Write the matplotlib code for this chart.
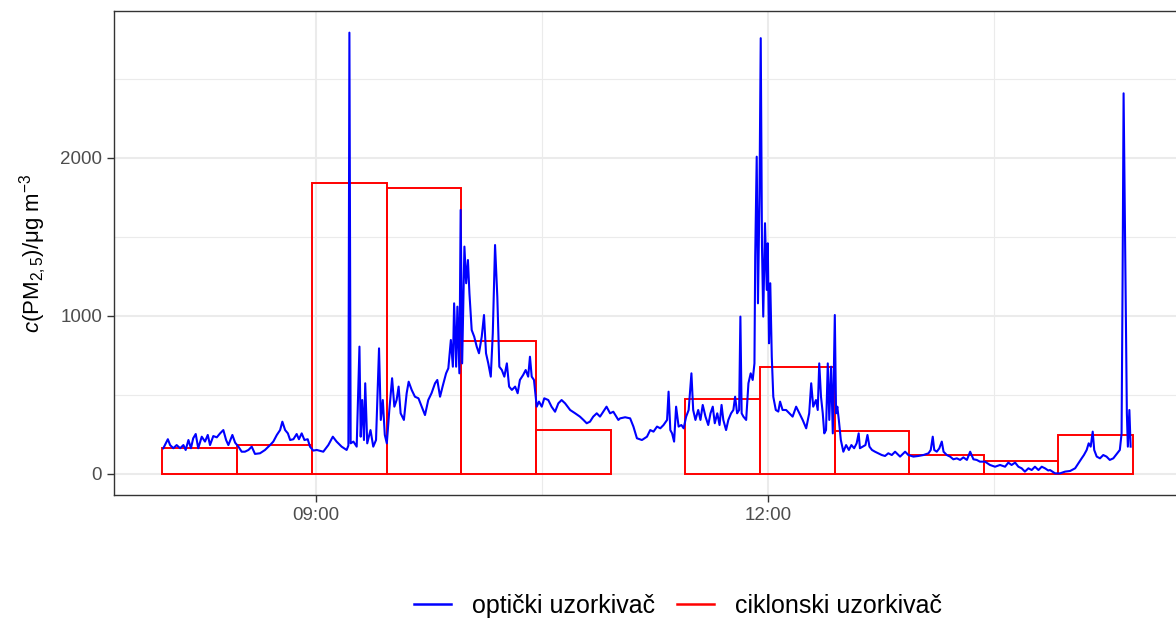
"""PM2.5 concentration: optical sampler time series vs cyclone sampler 30-min averages."""

import matplotlib

matplotlib.use("Agg")
import matplotlib.pyplot as plt
from matplotlib.lines import Line2D
from matplotlib.patches import Rectangle

plt.rcParams["font.family"] = ["Liberation Sans", "DejaVu Sans"]
plt.rcParams["mathtext.fontset"] = "custom"
plt.rcParams["mathtext.rm"] = "Liberation Sans"
plt.rcParams["mathtext.it"] = "Liberation Sans:italic"

# optical sampler, minutes after 08:00 and concentration in ug/m3
opt_min = [
    -0.8, 1.0, 1.9, 3.2, 4.5, 5.9, 7.2, 8.1, 9.2, 10.2, 11.1, 12.1, 13.1, 14.5,
    15.8, 16.9, 17.8, 19.1, 20.5, 21.8, 23.1, 24.2, 25.1, 26.7, 27.8, 29.1,
    30.4, 31.7, 33.1, 34.4, 35.7, 37.7, 39.7, 41.7, 43.0, 44.4, 45.7, 46.6,
    47.7, 48.8, 49.7, 51.0, 52.3, 53.2, 54.3, 55.4, 56.7, 57.6, 58.9, 60.3,
    62.9, 64.9, 66.7, 68.2, 70.2, 72.2, 72.9, 73.3, 73.8, 74.9, 76.2, 77.3,
    77.8, 78.4, 79.1, 79.6, 80.4, 81.7, 82.8, 83.9, 85.1, 85.8, 86.6, 87.4,
    88.2, 89.2, 90.3, 91.2, 92.1, 92.9, 93.7, 95.0, 96.1, 96.9, 98.1, 99.4,
    100.8, 102.1, 103.4, 104.7, 106.0, 107.4, 108.3, 109.4, 110.4, 111.8,
    112.7, 113.7, 114.5, 115.0, 115.8, 116.3, 117.1, 117.6, 118.2, 119.1,
    119.8, 120.5, 121.1, 122.0, 123.0, 124.0, 124.9, 126.0, 126.9, 127.7,
    128.6, 129.6, 130.4, 131.3, 132.2, 133.0, 134.0, 135.0, 136.0, 136.9,
    138.0, 139.3, 140.3, 141.2, 142.5, 143.5, 144.5, 145.2, 145.9, 146.8,
    147.9, 148.8, 149.9, 150.9, 152.5, 153.8, 155.2, 156.5, 157.8, 159.2,
    161.2, 163.2, 165.1, 166.5, 167.8, 169.1, 170.4, 171.8, 173.1, 174.4,
    175.7, 177.1, 178.4, 180.4, 181.1, 183.1, 185.1, 186.4, 187.8, 189.8,
    191.8, 193.1, 194.4, 195.8, 197.1, 198.4, 199.8, 200.4, 201.1, 201.8,
    202.6, 203.4, 204.4, 205.5, 206.4, 207.4, 208.4, 209.5, 210.2, 211.1,
    212.2, 213.1, 214.0, 215.1, 216.2, 217.1, 218.0, 218.8, 219.8, 220.7,
    221.5, 222.2, 223.3, 224.2, 225.3, 226.2, 226.9, 227.7, 228.5, 229.0,
    229.5, 230.2, 231.3, 232.2, 233.1, 233.9, 234.6, 234.9, 235.5, 236.0,
    236.6, 237.1, 237.6, 238.1, 238.8, 239.5, 239.9, 240.4, 240.9, 241.5,
    242.1, 243.1, 244.1, 244.8, 245.8, 247.2, 248.5, 249.8, 251.2, 252.5,
    253.8, 255.2, 256.4, 257.2, 258.0, 259.1, 259.8, 260.4, 261.1, 261.8,
    262.4, 263.1, 263.8, 264.4, 265.1, 265.8, 266.6, 267.1, 267.6, 268.2,
    269.0, 270.0, 271.1, 272.2, 273.2, 274.3, 275.3, 276.1, 276.6, 277.7,
    278.8, 279.6, 280.4, 281.4, 282.6, 283.9, 285.3, 286.6, 287.9, 289.3,
    290.6, 292.6, 294.6, 295.9, 297.9, 299.9, 301.9, 303.9, 304.8, 305.6,
    306.2, 307.2, 308.2, 309.2, 309.9, 311.2, 312.5, 313.8, 315.2, 316.5,
    317.8, 319.2, 320.5, 321.8, 323.1, 324.4, 326.4, 328.4, 330.4, 332.4,
    334.4, 335.7, 337.0, 338.4, 339.7, 341.0, 342.3, 343.7, 345.0, 346.3,
    347.7, 349.0, 350.3, 351.6, 352.3, 354.3, 356.3, 358.3, 360.3, 362.3,
    363.6, 364.9, 365.8, 366.9, 367.7, 368.5, 369.3, 369.9, 370.9, 372.2,
    373.5, 374.8, 376.1, 377.5, 379.1, 380.1, 380.8, 381.2, 381.6, 382.1,
    382.5, 382.9, 383.3, 383.9, 384.4,
]
opt_val = [
    163, 220, 183, 163, 183, 163, 183, 152, 215, 163, 226, 253, 163, 236,
    205, 247, 183, 240, 232, 257, 278, 215, 183, 247, 198, 173,
    141, 141, 152, 173, 127, 131, 152, 183, 205, 247, 278, 331,
    278, 257, 215, 220, 253, 220, 257, 215, 220, 173, 148, 152,
    141, 183, 236, 205, 173, 152, 180, 2793, 194, 205, 173, 806,
    236, 468, 215, 574, 194, 278, 173, 215, 795, 342, 468, 247,
    194, 405, 606, 426, 468, 553, 384, 342, 511, 584, 532, 489,
    479, 426, 373, 468, 511, 574, 595, 489, 553, 637,
    669, 848, 679, 1080, 679, 1059, 637, 1671, 700, 1439,
    1207, 1354, 1143, 911, 869, 806, 764, 869, 1006, 764,
    700, 616, 890, 1449, 1122, 679, 658, 616, 700, 553,
    532, 553, 511, 595, 627, 658, 616, 742, 616, 595,
    426, 458, 426, 479, 468, 426, 394, 447, 468, 447,
    405, 384, 363, 342, 321, 331, 363, 384, 363, 394,
    426, 384, 394, 342, 352, 359, 352, 300, 226, 215,
    236, 278, 268, 300, 289, 310, 342, 521, 278, 257,
    205, 426, 300, 310, 289, 363, 405, 637, 405, 342,
    405, 342, 437, 363, 310, 384, 426, 321, 384, 310,
    437, 342, 278, 342, 384, 405, 489, 384, 405, 996,
    384, 363, 342, 574, 637, 595, 700, 1376, 2008, 1080,
    1755, 2758, 1439, 996, 1587, 1165, 1460, 827, 1207, 742,
    489, 405, 395, 458, 405, 405, 384, 363, 426, 384,
    342, 289, 384, 574, 426, 468, 405, 700, 489, 384,
    257, 278, 700, 342, 679, 257, 1006, 384, 426, 342,
    215, 141, 183, 152, 183, 163, 194, 257, 163, 173,
    183, 247, 173, 152, 141, 131, 120, 114, 131, 120,
    141, 110, 141, 120, 110, 114, 120, 131, 152, 236,
    152, 141, 162, 205, 141, 120, 110, 93, 99, 89,
    105, 89, 141, 93, 89, 78, 78, 57, 46, 57,
    46, 72, 57, 72, 46, 36, 15, 36, 25, 46,
    25, 46, 36, 22, 25, 4, 4, 15, 19, 36,
    68, 99, 120, 152, 194, 173, 268, 152, 110, 99,
    120, 110, 89, 99, 131, 152, 257, 1228, 2409, 1650,
    1017, 384, 173, 405, 173,
]

# cyclone sampler, 30-minute samples (minutes after 08:00)
cyc_start = [-1.3, 28.6, 58.5, 88.4, 117.8, 147.7, 207.1, 237.0, 266.8, 296.3, 326.1, 355.6]
cyc_end = [28.6, 58.5, 88.4, 117.8, 147.7, 177.6, 237.0, 266.8, 296.3, 326.1, 355.6, 385.5]
cyc_val = [165, 185, 1842, 1810, 842, 278, 475, 677, 272, 120, 82, 247]

x_ticks = [9, 12]
x_tick_labels = ["09:00", "12:00"]
x_minor = [7.5, 10.5, 13.5]
y_ticks = [0, 1000, 2000]
y_minor = [500, 1500, 2500]

BLUE = "#0000FF"
RED = "#FF0000"
GRID = "#EBEBEB"
DARK = "#333333"


def to_hours(minutes):
    return [8 + m / 60 for m in minutes]


fig = plt.figure(figsize=(11.76, 6.19), dpi=100)
ax = fig.add_axes([114 / 1176, 1 - 495 / 619, (1178 - 114) / 1176, 484 / 619])

for h in x_minor:
    ax.axvline(h, color=GRID, lw=0.8, zorder=0)
for v in y_minor:
    ax.axhline(v, color=GRID, lw=0.8, zorder=0)
for h in x_ticks:
    ax.axvline(h, color=GRID, lw=1.5, zorder=0)
for v in y_ticks:
    ax.axhline(v, color=GRID, lw=1.5, zorder=0)

for s, e, v in zip(to_hours(cyc_start), to_hours(cyc_end), cyc_val):
    ax.add_patch(Rectangle((s, 0), e - s, v, fill=False, edgecolor=RED, lw=1.4, zorder=2))

ax.plot(to_hours(opt_min), opt_val, color=BLUE, lw=1.5, zorder=3)

ax.set_xlim(7.6593, 14.7211)
ax.set_ylim(-133, 2930)
ax.set_xticks(x_ticks)
ax.set_xticklabels(x_tick_labels)
ax.set_yticks(y_ticks)
ax.tick_params(axis="both", colors=DARK, labelcolor="#4D4D4D", labelsize=13.5,
               length=5, width=1)
for sp in ax.spines.values():
    sp.set_color(DARK)
    sp.set_linewidth(1)

ax.set_ylabel(r"$c$(PM$_{2,5}$)/μg m$^{-3}$", fontsize=16, labelpad=8)

handles = [
    Line2D([], [], color=BLUE, lw=1.8),
    Line2D([], [], color=RED, lw=1.8),
]
fig.legend(handles, ["optički uzorkivač", "ciklonski uzorkivač"], loc="center",
           bbox_to_anchor=(678 / 1176, 1 - 606 / 619), ncol=2, frameon=False,
           fontsize=18, handlelength=1.5, columnspacing=0.85, handletextpad=0.85)

fig.savefig("out.png", dpi=100)
